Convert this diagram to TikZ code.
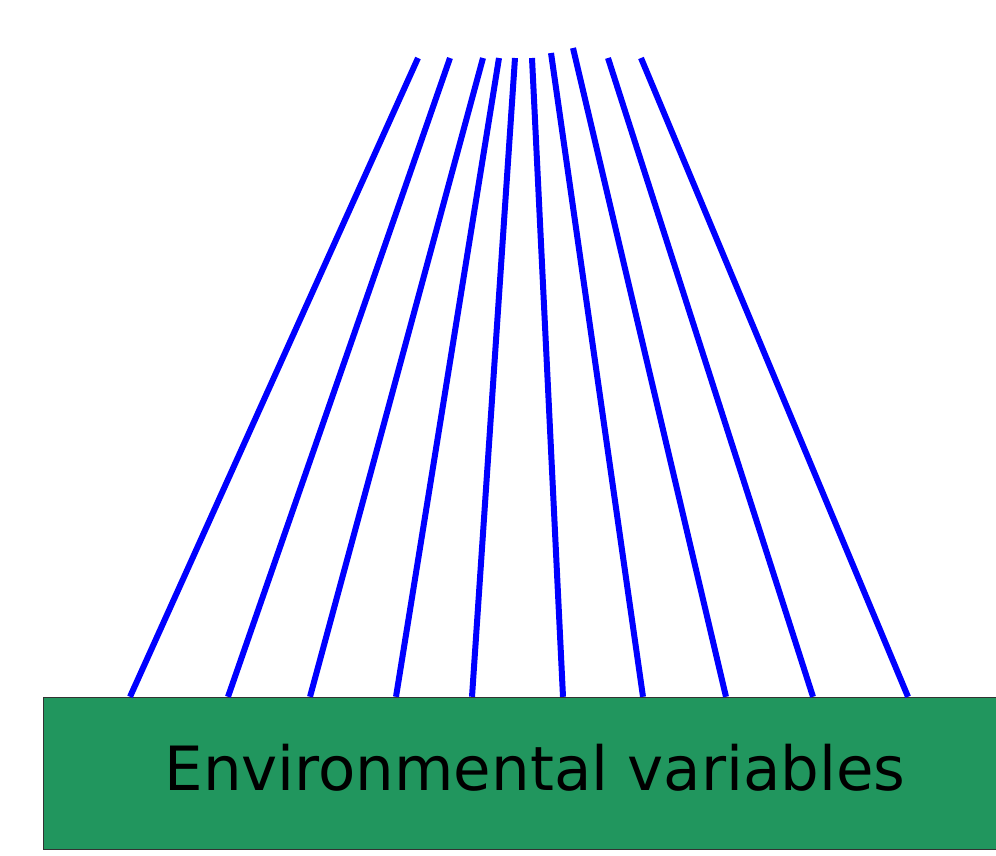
\documentclass[tikz,border=0pt]{standalone}
\usepackage{fontspec}
\setmainfont{DejaVu Sans}
\definecolor{envgreen}{RGB}{33,150,94}

\begin{document}
\begin{tikzpicture}[x=1pt,y=-1pt]

    \useasboundingbox (0,0) rectangle (996,855);

    % Box of variables
    \node[draw=black!80, fill=envgreen, minimum width=954pt, minimum height=152pt,
          inner sep=0pt] (env) at (520,773) {};
    \node[font=\fontsize{61}{72}\selectfont, inner sep=0pt, anchor=base]
          (envtext) at (535,790) {Environmental variables};

    % Blue lines fanning up from the box
    \foreach \top/\ytop/\bot in {418/58/130, 450/58/228, 483/58/310, 499/58/396,
                                 515/58/472, 532/58/563, 551/53/643, 573/48/726,
                                 608/58/813, 641/58/908}{
        \coordinate (up\top) at (\top,\ytop);
        \draw[blue, line width=6pt] (up\top) -- (\bot,0 |- env.north);
    }

\end{tikzpicture}
\end{document}
